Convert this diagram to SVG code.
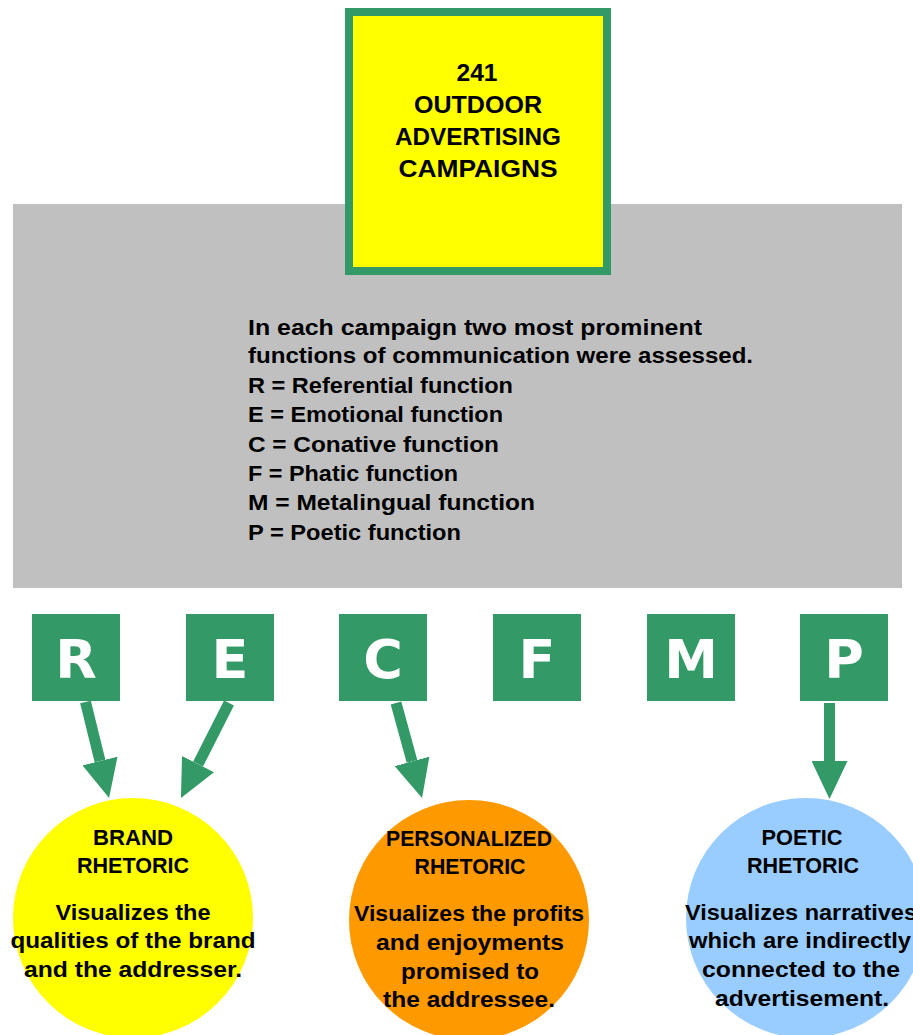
<svg xmlns="http://www.w3.org/2000/svg" width="913" height="1035" viewBox="0 0 913 1035">
<defs>
<style>
.t{font-family:"Liberation Sans",Arial,sans-serif;font-weight:bold;fill:#000}
.top{font-size:23px;text-anchor:middle}
.info{font-size:22px}
.cap{font-size:22px;text-anchor:middle}
.sq{fill:#339966}
.let{font-family:"DejaVu Sans",Verdana,sans-serif;font-weight:bold;font-size:54px;fill:#fff;text-anchor:middle}
.conn{stroke:#339966;stroke-width:11;fill:none}
</style>
<marker id="ah" viewBox="0 0 38 36" markerWidth="38" markerHeight="36" refX="0" refY="18" orient="auto" markerUnits="userSpaceOnUse">
<path d="M0,0 L38,18 L0,36 z" fill="#339966"/>
</marker>
</defs>
<rect width="913" height="1035" fill="#fff"/>
<g id="info">
<rect x="13" y="204" width="889" height="384" fill="#c0c0c0"/>
<text class="t info" x="248" y="335" textLength="454" lengthAdjust="spacingAndGlyphs">In each campaign two most prominent</text>
<text class="t info" x="248" y="363" textLength="505" lengthAdjust="spacingAndGlyphs">functions of communication were assessed.</text>
<text class="t info" x="248" y="393" textLength="265" lengthAdjust="spacingAndGlyphs">R = Referential function</text>
<text class="t info" x="248" y="422" textLength="255" lengthAdjust="spacingAndGlyphs">E = Emotional function</text>
<text class="t info" x="248" y="452" textLength="251" lengthAdjust="spacingAndGlyphs">C = Conative function</text>
<text class="t info" x="248" y="481" textLength="210" lengthAdjust="spacingAndGlyphs">F = Phatic function</text>
<text class="t info" x="248" y="510" textLength="287" lengthAdjust="spacingAndGlyphs">M = Metalingual function</text>
<text class="t info" x="248" y="540" textLength="213" lengthAdjust="spacingAndGlyphs">P = Poetic function</text>
</g>
<g id="title">
<rect x="349" y="12" width="258" height="259" fill="#ffff00" stroke="#339966" stroke-width="8"/>
<text class="t top" x="477" y="81" textLength="41" lengthAdjust="spacingAndGlyphs">241</text>
<text class="t top" x="478" y="113" textLength="128" lengthAdjust="spacingAndGlyphs">OUTDOOR</text>
<text class="t top" x="478" y="145" textLength="166" lengthAdjust="spacingAndGlyphs">ADVERTISING</text>
<text class="t top" x="478" y="177" textLength="159" lengthAdjust="spacingAndGlyphs">CAMPAIGNS</text>
</g>
<g id="node-R"><rect class="sq" x="32" y="614" width="88" height="87"/><text class="let" x="76" y="678">R</text></g>
<g id="node-E"><rect class="sq" x="186" y="614" width="88" height="87"/><text class="let" x="230" y="678">E</text></g>
<g id="node-C"><rect class="sq" x="339" y="614" width="88" height="87"/><text class="let" x="383" y="678">C</text></g>
<g id="node-F"><rect class="sq" x="493" y="614" width="88" height="87"/><text class="let" x="537" y="678">F</text></g>
<g id="node-M"><rect class="sq" x="647" y="614" width="88" height="87"/><text class="let" x="691" y="678">M</text></g>
<g id="node-P"><rect class="sq" x="800" y="614" width="88" height="87"/><text class="let" x="844" y="678">P</text></g>
<g id="connectors">
<line class="conn" x1="85.5" y1="702" x2="100" y2="761" marker-end="url(#ah)"/>
<line class="conn" x1="229" y1="703" x2="198.1" y2="764.1" marker-end="url(#ah)"/>
<line class="conn" x1="396" y1="703" x2="412" y2="761.4" marker-end="url(#ah)"/>
<line class="conn" x1="829.5" y1="703" x2="829.5" y2="761" marker-end="url(#ah)"/>
</g>
<g id="brand">
<circle cx="133" cy="918" r="120" fill="#ffff00"/>
<text class="t cap" x="133" y="845" textLength="80" lengthAdjust="spacingAndGlyphs">BRAND</text>
<text class="t cap" x="133" y="873" textLength="112" lengthAdjust="spacingAndGlyphs">RHETORIC</text>
<text class="t cap" x="133" y="920" textLength="155" lengthAdjust="spacingAndGlyphs">Visualizes the</text>
<text class="t cap" x="133" y="948" textLength="245" lengthAdjust="spacingAndGlyphs">qualities of the brand</text>
<text class="t cap" x="133" y="977" textLength="218" lengthAdjust="spacingAndGlyphs">and the addresser.</text>
</g>
<g id="personalized">
<circle cx="469" cy="920" r="120" fill="#ff9900"/>
<text class="t cap" x="469" y="846" textLength="166" lengthAdjust="spacingAndGlyphs">PERSONALIZED</text>
<text class="t cap" x="470" y="874" textLength="111" lengthAdjust="spacingAndGlyphs">RHETORIC</text>
<text class="t cap" x="469" y="921" textLength="230" lengthAdjust="spacingAndGlyphs">Visualizes the profits</text>
<text class="t cap" x="470" y="950" textLength="188" lengthAdjust="spacingAndGlyphs">and enjoyments</text>
<text class="t cap" x="470" y="979" textLength="138" lengthAdjust="spacingAndGlyphs">promised to</text>
<text class="t cap" x="469" y="1007" textLength="172" lengthAdjust="spacingAndGlyphs">the addressee.</text>
</g>
<g id="poetic">
<circle cx="806" cy="918" r="120" fill="#99ccff"/>
<text class="t cap" x="802" y="845" textLength="81" lengthAdjust="spacingAndGlyphs">POETIC</text>
<text class="t cap" x="803" y="873" textLength="112" lengthAdjust="spacingAndGlyphs">RHETORIC</text>
<text class="t cap" x="801" y="920" textLength="232" lengthAdjust="spacingAndGlyphs">Visualizes narratives</text>
<text class="t cap" x="800" y="948" textLength="222" lengthAdjust="spacingAndGlyphs">which are indirectly</text>
<text class="t cap" x="801" y="977" textLength="198" lengthAdjust="spacingAndGlyphs">connected to the</text>
<text class="t cap" x="802" y="1006" textLength="174" lengthAdjust="spacingAndGlyphs">advertisement.</text>
</g>
</svg>
